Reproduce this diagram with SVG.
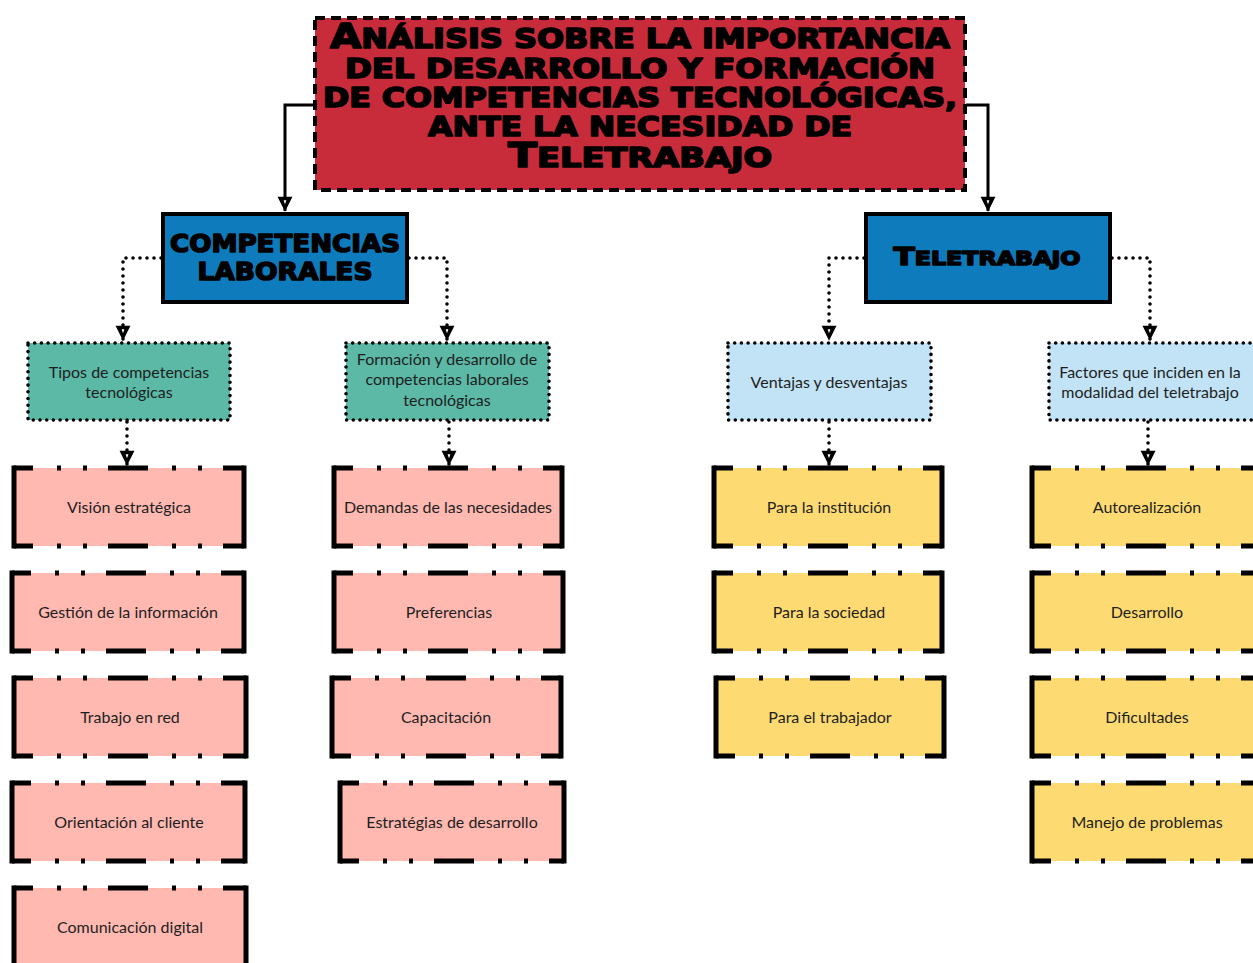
<svg xmlns="http://www.w3.org/2000/svg" width="1253" height="963" viewBox="0 0 1253 963">
  <defs>
    <marker id="ah" markerUnits="userSpaceOnUse" markerWidth="20" markerHeight="16" refX="15" refY="6" orient="auto" overflow="visible">
      <path d="M2,0.5 L13,6 L2,11.5 Z" fill="#000" stroke="#000" stroke-width="2.4" stroke-linejoin="miter"/>
      <path d="M4.2,4.6 L8.2,6 L4.2,7.4 Z" fill="#fff"/>
    </marker>
    <style>
      .title { fill:#c82c3b; stroke:#000; stroke-width:4; stroke-dasharray:10 6; }
      .main { fill:#0e7bbd; stroke:#000; stroke-width:4; }
      .green { fill:#5bb9a6; stroke:#000; stroke-width:3.6; stroke-dasharray:0 6.7; stroke-linecap:round; }
      .lblue { fill:#c2e3f5; stroke:#000; stroke-width:3.6; stroke-dasharray:0 6.7; stroke-linecap:round; }
      .pink { fill:#ffb9b1; }
      .yellow { fill:#fddb72; }
      .side { fill:none; stroke:#000; stroke-width:5; }
      .dd { fill:none; stroke:#000; stroke-width:5; stroke-dasharray:40 24 4 22 4 21; stroke-dashoffset:21; }
      .solid { fill:none; stroke:#000; stroke-width:3; }
      .dot { fill:none; stroke:#000; stroke-width:3.6; stroke-dasharray:0 7; stroke-linecap:round; }
      .ht { font-family:"DejaVu Sans", "Liberation Sans", sans-serif; font-weight:bold; fill:#000; stroke:#000; stroke-width:1.6; stroke-linejoin:round; text-anchor:middle; }
      .lt { font-family:Lato, "Noto Sans", sans-serif; font-size:16px; fill:#1e1e1e; text-anchor:middle; }
    </style>
  </defs>

  <g id="connectors">
    <path class="solid" d="M314,105 H285 V211" marker-end="url(#ah)"/>
    <path class="solid" d="M966,105 H988 V211" marker-end="url(#ah)"/>
    <path class="dot" d="M161,258 H123 V340" marker-end="url(#ah)"/>
    <path class="dot" d="M409,258 H447 V340" marker-end="url(#ah)"/>
    <path class="dot" d="M864,258 H829 V340" marker-end="url(#ah)"/>
    <path class="dot" d="M1112,258 H1150 V340" marker-end="url(#ah)"/>
    <path class="dot" d="M127,422 V465" marker-end="url(#ah)"/>
    <path class="dot" d="M449,422 V465" marker-end="url(#ah)"/>
    <path class="dot" d="M829,422 V465" marker-end="url(#ah)"/>
    <path class="dot" d="M1148,422 V465" marker-end="url(#ah)"/>
  </g>

  <g id="title">
    <rect class="title" x="315" y="18" width="650" height="172"/>
    <text class="ht" x="640" y="48" font-size="26" textLength="620" lengthAdjust="spacingAndGlyphs"><tspan font-size="33">A</tspan>NÁLISIS SOBRE LA IMPORTANCIA</text>
    <text class="ht" x="640" y="78" font-size="26" textLength="590" lengthAdjust="spacingAndGlyphs">DEL DESARROLLO Y FORMACIÓN</text>
    <text class="ht" x="640" y="107" font-size="26" textLength="634" lengthAdjust="spacingAndGlyphs">DE COMPETENCIAS TECNOLÓGICAS,</text>
    <text class="ht" x="640" y="136" font-size="26" textLength="424" lengthAdjust="spacingAndGlyphs">ANTE LA NECESIDAD DE</text>
    <text class="ht" x="640" y="167" font-size="26" textLength="264" lengthAdjust="spacingAndGlyphs"><tspan font-size="33">T</tspan>ELETRABAJO</text>
  </g>

  <g id="competencias">
    <rect class="main" x="163" y="214" width="244" height="88"/>
    <text class="ht" x="285" y="252" font-size="25" textLength="230" lengthAdjust="spacingAndGlyphs">COMPETENCIAS</text>
    <text class="ht" x="285" y="280" font-size="25" textLength="175" lengthAdjust="spacingAndGlyphs">LABORALES</text>
  </g>
  <g id="teletrabajo">
    <rect class="main" x="866" y="214" width="244" height="88"/>
    <text class="ht" x="987" y="265" font-size="19" textLength="187" lengthAdjust="spacingAndGlyphs"><tspan font-size="25">T</tspan>ELETRABAJO</text>
  </g>

  <g id="tipos">
    <rect class="green" x="28" y="343" width="202" height="77"/>
    <text class="lt" x="129" y="378">Tipos de competencias</text>
    <text class="lt" x="129" y="398">tecnológicas</text>
  </g>
  <g id="formacion">
    <rect class="green" x="346" y="343" width="203" height="77"/>
    <text class="lt" x="447" y="365">Formación y desarrollo de</text>
    <text class="lt" x="447" y="385">competencias laborales</text>
    <text class="lt" x="447" y="406">tecnológicas</text>
  </g>
  <g id="ventajas">
    <rect class="lblue" x="728" y="343" width="203" height="77"/>
    <text class="lt" x="829" y="388">Ventajas y desventajas</text>
  </g>
  <g id="factores">
    <rect class="lblue" x="1049" y="343" width="210" height="77"/>
    <text class="lt" x="1150" y="378">Factores que inciden en la</text>
    <text class="lt" x="1150" y="398">modalidad del teletrabajo</text>
  </g>

  <!-- column 1 -->
  <g id="vision">
    <rect class="pink" x="14" y="468" width="230" height="78"/>
    <path class="side" d="M14,465.5 V548.5 M244,465.5 V548.5"/>
    <path class="dd" d="M14,468 H244 M14,546 H244"/>
    <text class="lt" x="129" y="513">Visión estratégica</text>
  </g>
  <g id="gestion">
    <rect class="pink" x="12" y="573" width="232" height="78"/>
    <path class="side" d="M12,570.5 V653.5 M244,570.5 V653.5"/>
    <path class="dd" d="M12,573 H244 M12,651 H244"/>
    <text class="lt" x="128" y="618">Gestión de la información</text>
  </g>
  <g id="trabajo-red">
    <rect class="pink" x="14" y="678" width="232" height="78"/>
    <path class="side" d="M14,675.5 V758.5 M246,675.5 V758.5"/>
    <path class="dd" d="M14,678 H246 M14,756 H246"/>
    <text class="lt" x="130" y="723">Trabajo en red</text>
  </g>
  <g id="orientacion">
    <rect class="pink" x="12" y="783" width="233" height="78"/>
    <path class="side" d="M12,780.5 V863.5 M245,780.5 V863.5"/>
    <path class="dd" d="M12,783 H245 M12,861 H245"/>
    <text class="lt" x="129" y="828">Orientación al cliente</text>
  </g>
  <g id="comunicacion">
    <rect class="pink" x="14" y="888" width="232" height="78"/>
    <path class="side" d="M14,885.5 V968.5 M246,885.5 V968.5"/>
    <path class="dd" d="M14,888 H246 M14,966 H246"/>
    <text class="lt" x="130" y="933">Comunicación digital</text>
  </g>

  <!-- column 2 -->
  <g id="demandas">
    <rect class="pink" x="334" y="468" width="228" height="78"/>
    <path class="side" d="M334,465.5 V548.5 M562,465.5 V548.5"/>
    <path class="dd" d="M334,468 H562 M334,546 H562"/>
    <text class="lt" x="448" y="513">Demandas de las necesidades</text>
  </g>
  <g id="preferencias">
    <rect class="pink" x="334" y="573" width="229" height="78"/>
    <path class="side" d="M334,570.5 V653.5 M563,570.5 V653.5"/>
    <path class="dd" d="M334,573 H563 M334,651 H563"/>
    <text class="lt" x="449" y="618">Preferencias</text>
  </g>
  <g id="capacitacion">
    <rect class="pink" x="332" y="678" width="229" height="78"/>
    <path class="side" d="M332,675.5 V758.5 M561,675.5 V758.5"/>
    <path class="dd" d="M332,678 H561 M332,756 H561"/>
    <text class="lt" x="446" y="723">Capacitación</text>
  </g>
  <g id="estrategias">
    <rect class="pink" x="340" y="783" width="224" height="78"/>
    <path class="side" d="M340,780.5 V863.5 M564,780.5 V863.5"/>
    <path class="dd" d="M340,783 H564 M340,861 H564"/>
    <text class="lt" x="452" y="828">Estratégias de desarrollo</text>
  </g>

  <!-- column 3 -->
  <g id="institucion">
    <rect class="yellow" x="714" y="468" width="228" height="78"/>
    <path class="side" d="M714,465.5 V548.5 M942,465.5 V548.5"/>
    <path class="dd" d="M714,468 H942 M714,546 H942"/>
    <text class="lt" x="829" y="513">Para la institución</text>
  </g>
  <g id="sociedad">
    <rect class="yellow" x="714" y="573" width="228" height="78"/>
    <path class="side" d="M714,570.5 V653.5 M942,570.5 V653.5"/>
    <path class="dd" d="M714,573 H942 M714,651 H942"/>
    <text class="lt" x="829" y="618">Para la sociedad</text>
  </g>
  <g id="trabajador">
    <rect class="yellow" x="716" y="678" width="228" height="78"/>
    <path class="side" d="M716,675.5 V758.5 M944,675.5 V758.5"/>
    <path class="dd" d="M716,678 H944 M716,756 H944"/>
    <text class="lt" x="830" y="723">Para el trabajador</text>
  </g>

  <!-- column 4 -->
  <g id="autorealizacion">
    <rect class="yellow" x="1032" y="468" width="230" height="78"/>
    <path class="side" d="M1032,465.5 V548.5 M1262,465.5 V548.5"/>
    <path class="dd" d="M1032,468 H1262 M1032,546 H1262"/>
    <text class="lt" x="1147" y="513">Autorealización</text>
  </g>
  <g id="desarrollo">
    <rect class="yellow" x="1032" y="573" width="230" height="78"/>
    <path class="side" d="M1032,570.5 V653.5 M1262,570.5 V653.5"/>
    <path class="dd" d="M1032,573 H1262 M1032,651 H1262"/>
    <text class="lt" x="1147" y="618">Desarrollo</text>
  </g>
  <g id="dificultades">
    <rect class="yellow" x="1032" y="678" width="230" height="78"/>
    <path class="side" d="M1032,675.5 V758.5 M1262,675.5 V758.5"/>
    <path class="dd" d="M1032,678 H1262 M1032,756 H1262"/>
    <text class="lt" x="1147" y="723">Dificultades</text>
  </g>
  <g id="manejo">
    <rect class="yellow" x="1032" y="783" width="230" height="78"/>
    <path class="side" d="M1032,780.5 V863.5 M1262,780.5 V863.5"/>
    <path class="dd" d="M1032,783 H1262 M1032,861 H1262"/>
    <text class="lt" x="1147" y="828">Manejo de problemas</text>
  </g>
</svg>
